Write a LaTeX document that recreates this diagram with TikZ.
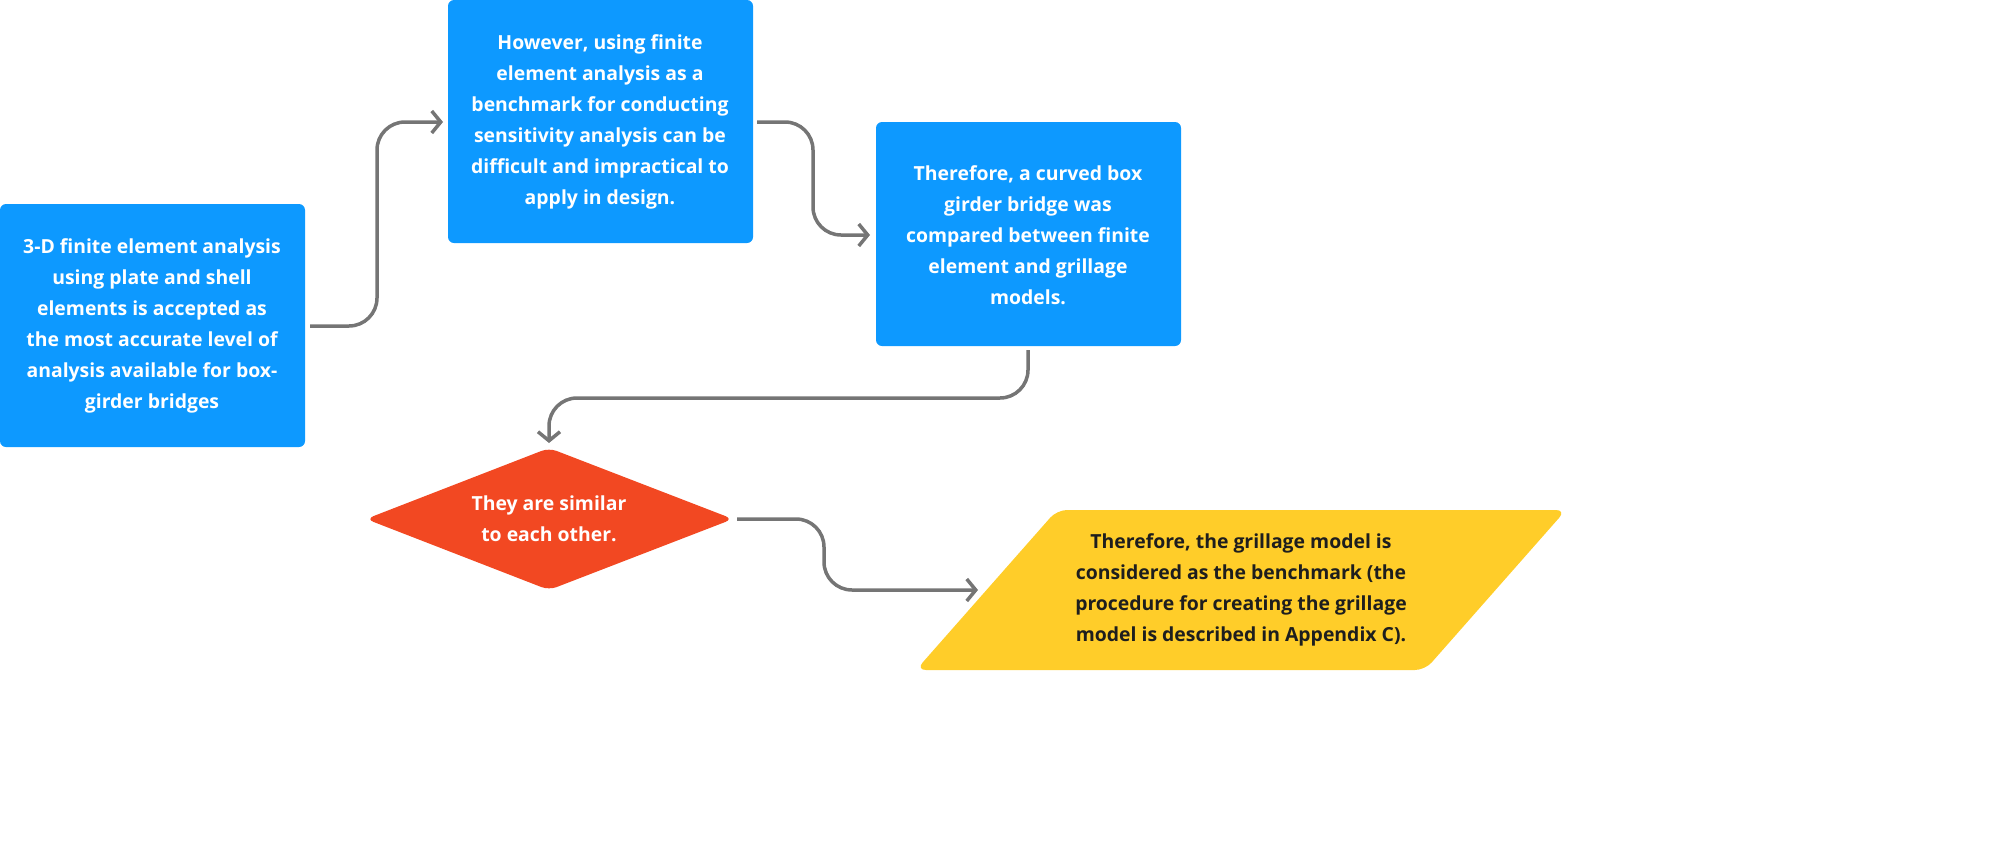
\documentclass[tikz,border=0pt]{standalone}
\usepackage{fontspec}
\setmainfont{Open Sans}
\usetikzlibrary{arrows.meta}
\definecolor{bblue}{HTML}{0D99FF}
\definecolor{rred}{HTML}{F24822}
\definecolor{yyel}{HTML}{FFCD29}
\definecolor{ggray}{HTML}{757575}
\definecolor{dtext}{HTML}{1E1E1E}
\begin{document}
\begin{tikzpicture}[x=1pt,y=-1pt,
  txt/.style={align=center,font=\fontsize{19.4}{31}\selectfont\bfseries,text=white},
  box/.style={fill=bblue,rounded corners=6pt,draw=none},
  conn/.style={draw=ggray,line width=3.5pt,rounded corners=28pt,-{Straight Barb[length=9pt,width=22pt,line width=3.5pt]}}]
\useasboundingbox (0,0) rectangle (2014,863);
\fill[box] (0,204) rectangle (305,447);
\fill[box] (448,0) rectangle (753,243);
\fill[box] (876,122) rectangle (1181,346);
\fill[rred,rounded corners=8pt] (366,519) -- (549,448) -- (733,519) -- (549,590) -- cycle;
\fill[yyel,rounded corners=10pt] (1057,510) -- (1566,510) -- (1425,670) -- (916,670) -- cycle;
\node[txt] (A) at (152,326) {3-D finite element analysis\\using plate and shell\\elements is accepted as\\the most accurate level of\\analysis available for box-\\girder bridges};
\node[txt] (B) at (600,122) {However, using finite\\element analysis as a\\benchmark for conducting\\sensitivity analysis can be\\difficult and impractical to\\apply in design.};
\node[txt] (C) at (1028,235) {Therefore, a curved box\\girder bridge was\\compared between finite\\element and grillage\\models.};
\node[txt] (D) at (549,519) {They are similar\\to each other.};
\node[txt,text=dtext] (E) at (1241,590) {Therefore, the grillage model is\\considered as the benchmark (the\\procedure for creating the grillage\\model is described in Appendix C).};
\coordinate (a1) at (310,326);
\coordinate (b0) at (443,122);
\coordinate (b1) at (757,122);
\coordinate (c0) at (870,235);
\coordinate (c1) at (1028,350);
\coordinate (d0) at (549,443);
\coordinate (d1) at (737,519);
\coordinate (e0) at (978,590);
\draw[conn] (a1) -- (377,326) -- (377,122) -- (b0);
\draw[conn] (b1) -- (813,122) -- (813,235) -- (c0);
\draw[conn] (c1) -- (1028,398) -- (549,398) -- (d0);
\draw[conn] (d1) -- (824,519) -- (824,590) -- (e0);
\end{tikzpicture}
\end{document}
